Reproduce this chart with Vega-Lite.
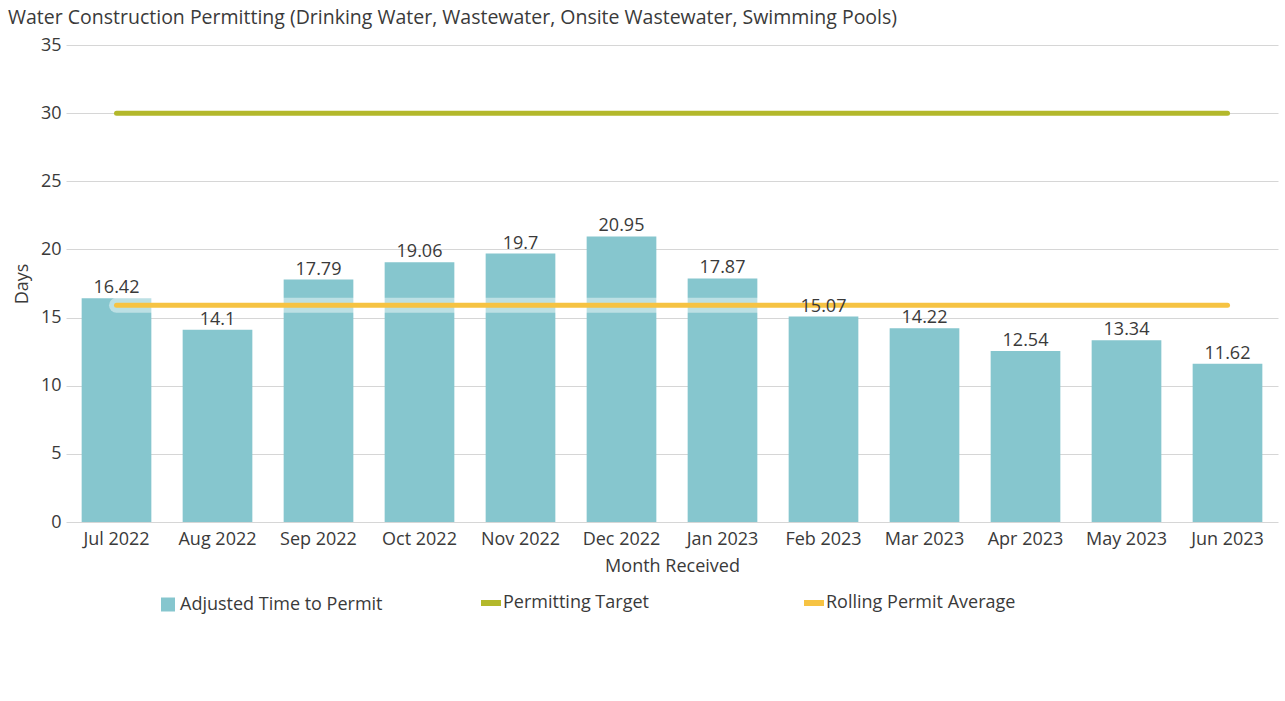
{
  "$schema": "https://vega.github.io/schema/vega-lite/v6.json",
  "width": 1212,
  "height": 477,
  "autosize": "none",
  "padding": {"left": 66, "top": 45, "right": 7, "bottom": 179},
  "background": "white",
  "config": {
    "font": "Open Sans",
    "view": {"stroke": null}
  },
  "title": {
    "text": "Water Construction Permitting (Drinking Water, Wastewater, Onsite Wastewater, Swimming Pools)",
    "anchor": "start",
    "frame": "group",
    "dx": -58,
    "offset": 8,
    "fontSize": 19.5,
    "fontWeight": "normal",
    "color": "#3a3a3a"
  },
  "data": {
    "values": [
      {"month": "Jul 2022", "days": 16.42, "target": 30, "avg": 15.9},
      {"month": "Aug 2022", "days": 14.1, "target": 30, "avg": 15.9},
      {"month": "Sep 2022", "days": 17.79, "target": 30, "avg": 15.9},
      {"month": "Oct 2022", "days": 19.06, "target": 30, "avg": 15.9},
      {"month": "Nov 2022", "days": 19.7, "target": 30, "avg": 15.9},
      {"month": "Dec 2022", "days": 20.95, "target": 30, "avg": 15.9},
      {"month": "Jan 2023", "days": 17.87, "target": 30, "avg": 15.9},
      {"month": "Feb 2023", "days": 15.07, "target": 30, "avg": 15.9},
      {"month": "Mar 2023", "days": 14.22, "target": 30, "avg": 15.9},
      {"month": "Apr 2023", "days": 12.54, "target": 30, "avg": 15.9},
      {"month": "May 2023", "days": 13.34, "target": 30, "avg": 15.9},
      {"month": "Jun 2023", "days": 11.62, "target": 30, "avg": 15.9}
    ]
  },
  "encoding": {
    "x": {
      "field": "month",
      "type": "nominal",
      "sort": null,
      "title": "Month Received",
      "scale": {"paddingInner": 0.31, "paddingOuter": 0.155},
      "axis": {
        "labelAngle": 0,
        "labelFontSize": 18,
        "labelColor": "#3a3a3a",
        "labelPadding": 8,
        "ticks": false,
        "domain": false,
        "titleFontSize": 18,
        "titleFontWeight": "normal",
        "titleColor": "#3a3a3a",
        "titlePadding": 9
      }
    }
  },
  "layer": [
    {
      "mark": {"type": "bar", "color": "#86c6ce"},
      "encoding": {
        "y": {
          "field": "days",
          "type": "quantitative",
          "title": "Days",
          "scale": {"domain": [0, 35]},
          "axis": {
            "values": [0, 5, 10, 15, 20, 25, 30, 35],
            "labelFontSize": 18,
            "labelColor": "#3a3a3a",
            "labelPadding": 5,
            "ticks": false,
            "domain": false,
            "gridColor": "#d6d6d6",
            "titleFontSize": 18,
            "titleFontWeight": "normal",
            "titleColor": "#3a3a3a",
            "titlePadding": 9
          }
        },
        "color": {
          "datum": "Adjusted Time to Permit",
          "type": "nominal",
          "scale": {
            "domain": ["Adjusted Time to Permit", "Permitting Target", "Rolling Permit Average"],
            "range": ["#86c6ce", "#b3b82b", "#f6c343"]
          },
          "legend": {
            "title": null,
            "orient": "none",
            "legendX": 93,
            "legendY": 549,
            "direction": "horizontal",
            "columns": 3,
            "gridAlign": "all",
            "columnPadding": 86,
            "labelFontSize": 18,
            "labelColor": "#3a3a3a",
            "labelOffset": 3,
            "labelLimit": 400,
            "encode": {
              "symbols": {
                "update": {
                  "shape": {"signal": "datum.value == 'Adjusted Time to Permit' ? 'square' : 'stroke'"},
                  "size": {"signal": "datum.value == 'Adjusted Time to Permit' ? 196 : 400"},
                  "strokeWidth": {"signal": "datum.value == 'Adjusted Time to Permit' ? 0 : 6"},
                  "fill": {"scale": "color", "field": "value"},
                  "stroke": {"scale": "color", "field": "value"},
                  "opacity": {"value": 1}
                }
              }
            }
          }
        }
      }
    },
    {
      "mark": {"type": "line", "strokeWidth": 5, "strokeCap": "round"},
      "encoding": {
        "y": {"field": "target", "type": "quantitative"},
        "color": {"datum": "Permitting Target", "type": "nominal"}
      }
    },
    {
      "mark": {"type": "line", "strokeWidth": 15, "strokeCap": "round", "color": "white", "opacity": 0.45},
      "encoding": {
        "y": {"field": "avg", "type": "quantitative"}
      }
    },
    {
      "mark": {"type": "line", "strokeWidth": 5, "strokeCap": "round"},
      "encoding": {
        "y": {"field": "avg", "type": "quantitative"},
        "color": {"datum": "Rolling Permit Average", "type": "nominal"}
      }
    },
    {
      "mark": {"type": "text", "baseline": "bottom", "dy": -1, "fontSize": 18, "color": "#3a3a3a"},
      "encoding": {
        "y": {"field": "days", "type": "quantitative"},
        "text": {"field": "days", "type": "quantitative"}
      }
    }
  ]
}
